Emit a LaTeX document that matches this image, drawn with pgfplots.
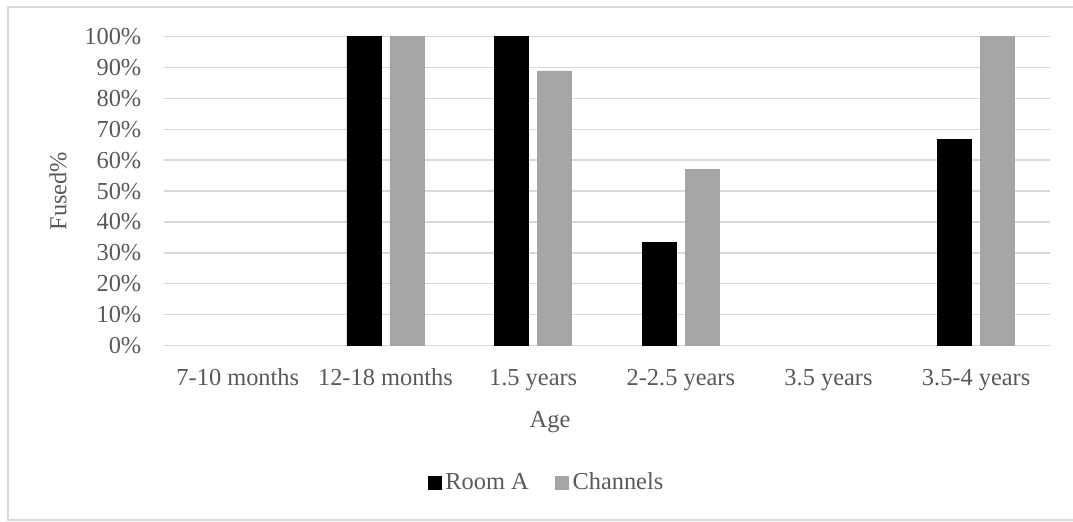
\documentclass[border=0pt]{standalone}
\usepackage{pgfplots}
\pgfplotsset{compat=1.18}
\usepackage{fontspec}
\setmainfont{Liberation Serif}

\definecolor{txt}{HTML}{595959}
\definecolor{gridc}{HTML}{D9D9D9}
\definecolor{barA}{HTML}{000000}
\definecolor{barB}{HTML}{A5A5A5}

\begin{document}
\fontsize{12.2}{14.6}\selectfont
\begin{tikzpicture}
\begin{axis}[
    at={(0,0)}, anchor=south west,
    scale only axis,
    width=443pt, height=154.4pt,
    ybar=4.5pt, bar width=17pt,
    xmin=-0.5, xmax=5.5,
    ymin=0, ymax=100,
    axis line style={draw=none},
    major tick length=0pt,
    ymajorgrids,
    grid style={gridc, line width=0.75pt},
    xtick={0,1,2,3,4,5},
    xticklabels={7-10 months, 12-18 months, 1.5 years, 2-2.5 years, 3.5 years, 3.5-4 years},
    ytick={0,10,20,30,40,50,60,70,80,90,100},
    yticklabels={0\%,10\%,20\%,30\%,40\%,50\%,60\%,70\%,80\%,90\%,100\%},
    xticklabel style={anchor=base, inner sep=0pt, yshift=-19.75pt, text=txt},
    yticklabel style={anchor=east, inner sep=0pt, xshift=-11.15pt, text=txt},
    xlabel={Age},
    xlabel style={at={(rel axis cs:0.4357,0)}, anchor=base, inner sep=0pt, yshift=-40.75pt, text=txt},
    ylabel={Fused\%},
    ylabel style={at={(rel axis cs:-0.1196,0.5)}, anchor=center, inner sep=0pt, text=txt},
    legend style={draw=none, fill=none, at={(rel axis cs:0.4328,-0.4462)}, anchor=center,
        legend columns=-1, text=txt,
        /tikz/every even column/.append style={column sep=11pt}},
    legend image code/.code={\fill[#1] (0pt,-3.25pt) rectangle (6.5pt,3.25pt);},
]
\addplot[fill=barA, draw=barA] coordinates {(1,100) (2,100) (3,33.3) (5,66.7)};
\addplot[fill=barB, draw=barB] coordinates {(1,100) (2,88.9) (3,57.1) (5,100)};
\legend{Room A, Channels}
\end{axis}
\draw[gridc, line width=0.75pt] (-78pt,-87.25pt) rectangle (456pt,169.25pt);
\pgfresetboundingbox
\path[use as bounding box] (-82pt,-87.75pt) rectangle (454.5pt,172.75pt);
\end{tikzpicture}
\end{document}
